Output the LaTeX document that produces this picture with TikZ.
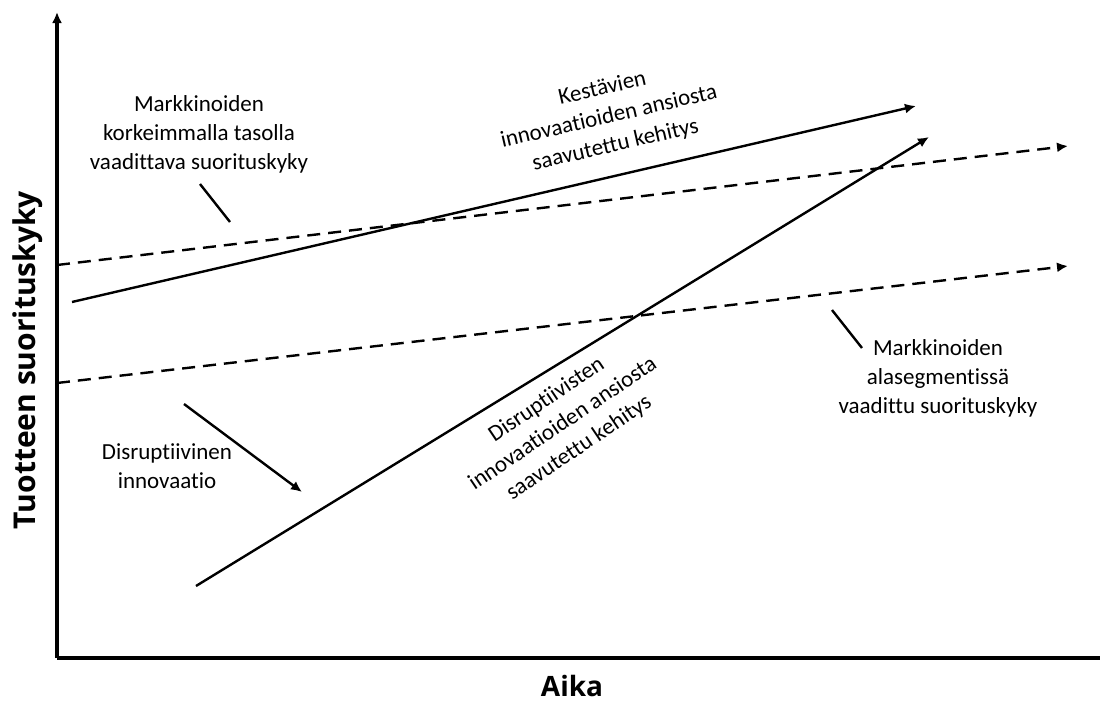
\documentclass[tikz,border=0pt]{standalone}
\usepackage{fontspec}
\setmainfont{Carlito}[Ligatures=NoCommon]
\newfontfamily\axisfont{Open Sans}
\usetikzlibrary{arrows.meta}
\usetikzlibrary{calc}

\begin{document}
\begin{tikzpicture}[x=0.5pt,y=-0.5pt,
        lbl/.style={align=center, font=\fontsize{11.5}{14.5}\selectfont},
        axlbl/.style={font=\axisfont\bfseries\fontsize{15}{18}\selectfont},
        tip/.style={-{Latex[length=5.5pt,width=5pt]}},
        demand/.style={line width=1.2pt, dash pattern=on 6.5pt off 4pt, tip},
        trend/.style={line width=1.2pt, tip}]
        \useasboundingbox (0,0) rectangle (1100,702);

        % axes
        \coordinate (O) at (57,658);
        \coordinate (Y) at (57,12);
        \coordinate (X) at (1116,658);

        % demanded performance
        \coordinate (HighA) at (57,265);
        \coordinate (HighB) at (1068,146);
        \coordinate (LowA) at (57,383);
        \coordinate (LowB) at (1068,266);

        % sustaining and disruptive trajectories
        \coordinate (SusA) at (72,302);
        \coordinate (SusB) at (916,106);
        \coordinate (DisA) at (196,586);
        \coordinate (DisB) at (929,137);

        % pointers
        \coordinate (PHighA) at (200,184);
        \coordinate (PHighB) at (230,222);
        \coordinate (PLowA) at (832,310);
        \coordinate (PLowB) at (862,348);
        \coordinate (PDisA) at (184,404);
        \coordinate (PDisB) at (302,492);

        \draw[line width=1.6pt, tip] (O) -- (Y);
        \draw[line width=1.6pt, tip] (O) -- (X);

        \draw[demand] (HighA) -- (HighB);
        \draw[demand] (LowA) -- (LowB);
        \draw[trend] (SusA) -- (SusB);
        \draw[trend] (DisA) -- (DisB);

        \draw[line width=1.2pt] (PHighA) -- (PHighB);
        \draw[line width=1.2pt] (PLowA) -- (PLowB);
        \draw[trend] (PDisA) -- (PDisB);

        \node[lbl] (high) at (199,134) {Markkinoiden\\korkeimmalla tasolla\\vaadittava suorituskyky};
        \node[lbl, rotate=13] (sus) at (609,117) {Kestävien\\innovaatioiden ansiosta\\saavutettu kehitys};
        \node[lbl, rotate=34] (dis) at (563,424) {Disruptiivisten\\innovaatioiden ansiosta\\saavutettu kehitys};
        \node[lbl] (low) at (938,378) {Markkinoiden\\alasegmentissä\\vaadittu suorituskyky};
        \node[lbl] (disinno) at (167,466) {Disruptiivinen\\innovaatio};

        \node[axlbl, rotate=90] (ytitle) at (28,360) {Tuotteen suorituskyky};
        \node[axlbl, font=\axisfont\bfseries\fontsize{14}{17}\selectfont] (xtitle) at (572,686) {Aika};
    \end{tikzpicture}
\end{document}
